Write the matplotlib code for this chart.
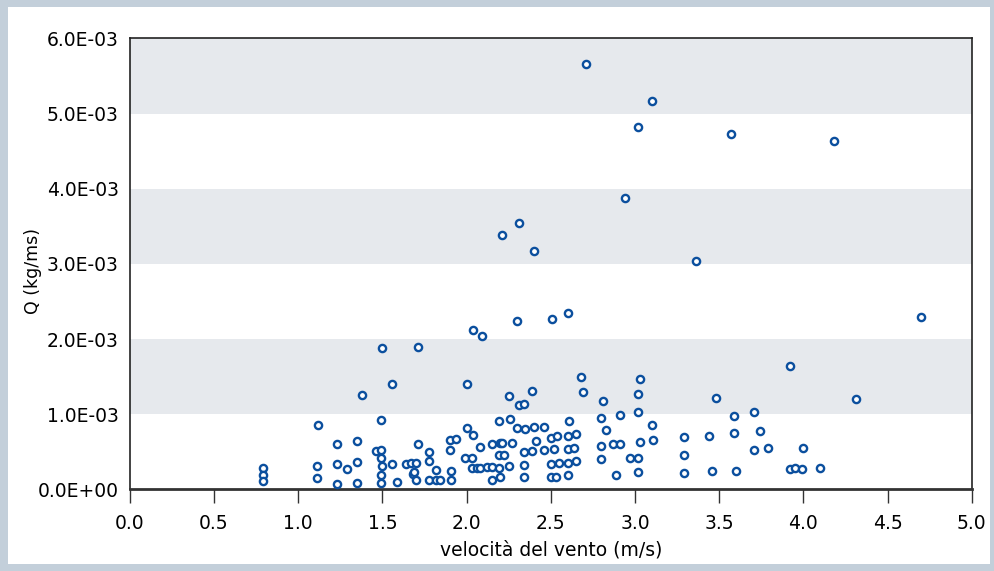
import numpy as np
import matplotlib
matplotlib.use("Agg")
import matplotlib.pyplot as plt
from matplotlib.patches import Rectangle
from matplotlib.ticker import FuncFormatter

# ============================================================
# Dati: velocità del vento [m/s], Q [1e-3 kg/ms]
# ============================================================
wind_speed = [
    0.79, 0.79, 0.79, 1.50, 1.71, 1.56, 1.38, 1.12, 1.49, 1.23,
    1.35, 1.46, 1.49, 1.49, 1.11, 1.23, 1.29, 1.35, 1.50, 1.56,
    1.64, 1.67, 1.70, 1.68, 1.69, 1.71, 1.78, 1.78, 1.82, 1.11,
    1.23, 1.35, 1.49, 1.49, 1.59, 1.70, 1.78, 1.82, 1.84, 2.04,
    2.09, 2.00, 2.25, 2.31, 2.34, 2.39, 2.68, 2.69, 2.81, 2.80,
    2.83, 2.19, 2.26, 2.00, 2.04, 1.90, 1.94, 1.90, 2.08, 2.15,
    2.20, 2.21, 2.27, 2.30, 2.35, 2.40, 2.46, 2.41, 2.50, 2.54,
    2.61, 2.60, 2.65, 2.80, 2.80, 1.99, 2.03, 2.19, 2.22, 2.34,
    2.39, 2.46, 2.52, 2.60, 2.64, 2.03, 2.06, 2.08, 2.12, 2.15,
    2.19, 2.25, 2.34, 2.50, 2.55, 2.60, 2.65, 1.91, 1.91, 2.15,
    2.20, 2.34, 2.50, 2.53, 2.60, 3.03, 3.02, 3.02, 2.91, 3.10,
    2.87, 2.91, 3.03, 3.11, 2.97, 3.02, 2.89, 3.02, 3.48, 3.59,
    3.71, 3.29, 3.44, 3.59, 3.74, 3.29, 3.71, 3.79, 3.29, 3.46,
    3.60, 3.92, 4.31, 4.00, 3.92, 3.95, 3.99, 4.10, 2.21, 2.31,
    2.40, 2.30, 2.51, 2.60, 2.71, 3.10, 3.02, 3.57, 4.18, 2.94,
    3.36, 4.70,
]
q_e3 = [
    0.28, 0.19, 0.11, 1.88, 1.90, 1.40, 1.25, 0.86, 0.92, 0.60,
    0.64, 0.51, 0.52, 0.42, 0.31, 0.33, 0.27, 0.36, 0.31, 0.33,
    0.33, 0.35, 0.35, 0.21, 0.23, 0.60, 0.50, 0.37, 0.26, 0.15,
    0.07, 0.09, 0.19, 0.09, 0.10, 0.12, 0.12, 0.13, 0.13, 2.12,
    2.04, 1.40, 1.24, 1.12, 1.14, 1.31, 1.49, 1.30, 1.17, 0.95,
    0.79, 0.91, 0.94, 0.82, 0.72, 0.65, 0.67, 0.52, 0.56, 0.60,
    0.61, 0.62, 0.62, 0.81, 0.80, 0.83, 0.83, 0.64, 0.68, 0.71,
    0.91, 0.71, 0.73, 0.58, 0.40, 0.41, 0.42, 0.45, 0.45, 0.49,
    0.51, 0.52, 0.53, 0.54, 0.55, 0.29, 0.28, 0.28, 0.30, 0.30,
    0.29, 0.31, 0.32, 0.34, 0.35, 0.35, 0.37, 0.25, 0.12, 0.13,
    0.16, 0.16, 0.17, 0.17, 0.19, 1.47, 1.27, 1.03, 0.99, 0.85,
    0.60, 0.60, 0.63, 0.65, 0.41, 0.42, 0.19, 0.23, 1.21, 0.98,
    1.03, 0.70, 0.71, 0.75, 0.78, 0.46, 0.52, 0.55, 0.22, 0.24,
    0.24, 1.64, 1.20, 0.55, 0.27, 0.28, 0.27, 0.28, 3.39, 3.55,
    3.17, 2.24, 2.26, 2.35, 5.66, 5.17, 4.82, 4.73, 4.64, 3.88,
    3.04, 2.29,
]

x_ticks = [0.0, 0.5, 1.0, 1.5, 2.0, 2.5, 3.0, 3.5, 4.0, 4.5, 5.0]
y_ticks = [0.0, 1e-3, 2e-3, 3e-3, 4e-3, 5e-3, 6e-3]
band_ranges = [(1e-3, 2e-3), (3e-3, 4e-3), (5e-3, 6e-3)]

MARKER_COLOR = "#0b4f9e"
BAND_COLOR = "#e6e9ed"
FRAME_COLOR = "#c3cfda"
FONT_SIZE = 13.5

plt.rcParams["font.family"] = ["DejaVu Sans"]

# ============================================================
# Figura
# ============================================================
fig = plt.figure(figsize=(9.94, 5.71), dpi=100)

# cornice esterna grigio-azzurra
fig.patches.append(Rectangle((0, 0), 1, 1, transform=fig.transFigure,
                             facecolor=FRAME_COLOR, edgecolor="none", zorder=-3))
fig.patches.append(Rectangle((8 / 994, 7 / 571), 1 - 12 / 994, 1 - 14 / 571,
                             transform=fig.transFigure,
                             facecolor="white", edgecolor="none", zorder=-2))

ax = fig.add_axes([0.1305, 0.1431, 0.8471, 0.7895])
ax.set_facecolor("white")

for lo, hi in band_ranges:
    ax.axhspan(lo, hi, facecolor=BAND_COLOR, edgecolor="none", zorder=0)

ax.scatter(wind_speed, np.array(q_e3) * 1e-3, s=27, facecolors="white",
           edgecolors=MARKER_COLOR, linewidths=1.7, zorder=3)

ax.set_xlim(0, 5)
ax.set_ylim(0, 6e-3)
ax.set_xticks(x_ticks)
ax.set_yticks(y_ticks)
ax.xaxis.set_major_formatter(FuncFormatter(lambda v, p: f"{v:.1f}"))
ax.yaxis.set_major_formatter(FuncFormatter(lambda v, p: f"{v:.1E}"))

ax.tick_params(axis="x", direction="out", length=10, width=1.0,
               labelsize=FONT_SIZE, pad=8, color="#333333")
ax.tick_params(axis="y", length=0, labelsize=FONT_SIZE, pad=8)

for side in ["left", "top", "right"]:
    ax.spines[side].set_linewidth(1.2)
    ax.spines[side].set_color("#222222")
ax.spines["bottom"].set_linewidth(2.0)
ax.spines["bottom"].set_color("#333333")

ax.set_xlabel("velocità del vento (m/s)", fontsize=FONT_SIZE, labelpad=5)
ax.set_ylabel("Q (kg/ms)", fontsize=12.5)
ax.yaxis.set_label_coords(-0.104, 0.485)

fig.savefig("out.png", dpi=100)
